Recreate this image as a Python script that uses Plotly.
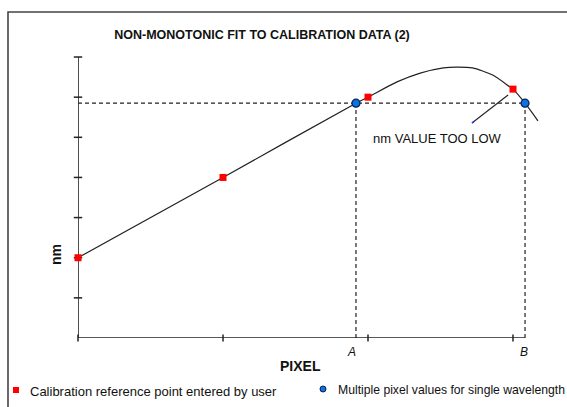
import plotly.graph_objects as go

# Calibration points entered by the user (pixel units, nm units)
calib_x = [0.0, 1.0, 2.0, 3.0]
calib_y = [2.0, 4.0, 6.0, 6.2]

# Pixels that map to the same wavelength on the fitted curve
multi_x = [1.917, 3.083]
multi_y = [5.85, 5.85]

# Fitted (non-monotonic) calibration curve
fit_x = [0.0, 1.0, 1.917, 2.0, 2.2, 2.36, 2.52, 2.61, 2.72, 2.86, 2.98, 3.0, 3.083, 3.172]
fit_y = [2.0, 4.0, 5.85, 6.0, 6.38, 6.60, 6.73, 6.75, 6.73, 6.55, 6.25, 6.2, 5.85, 5.41]

# Axis tick positions and labels
y_ticks = [1, 2, 3, 4, 5, 6, 7]
x_ticks = [0, 1, 2, 3]
x_axis_end = 3.083
y_axis_end = 7.0
point_labels = ["A", "B"]

W, H = 567, 407
ML, MR, MT, MB = 78, 10, 45, 69
PW, PH = W - ML - MR, H - MT - MB
X_UNIT, Y_UNIT = 145.0, 40.14  # pixels per axis unit

SANS = "Liberation Sans, Arial, sans-serif"
INK = "#111"


def px(x):
    return (x - ML) / PW


def py(y):
    return (H - MB - y) / PH


fig = go.Figure()

# dashed guide lines for the repeated wavelength
fig.add_trace(go.Scatter(
    x=[0, multi_x[1]], y=[multi_y[0], multi_y[1]], mode="lines",
    line=dict(color="#222", width=1.2, dash="4px,3px"), hoverinfo="skip"))
for xv, yv in zip(multi_x, multi_y):
    fig.add_trace(go.Scatter(
        x=[xv, xv], y=[0, yv], mode="lines",
        line=dict(color="#222", width=1.2, dash="4px,3px"), hoverinfo="skip"))

# axes
fig.add_trace(go.Scatter(x=[0, 0], y=[0, y_axis_end], mode="lines",
                         line=dict(color="#222", width=1.6), hoverinfo="skip"))
fig.add_trace(go.Scatter(x=[0, x_axis_end], y=[0, 0], mode="lines",
                         line=dict(color="#222", width=1.6), hoverinfo="skip"))
fig.add_trace(go.Scatter(x=[0] * len(y_ticks), y=y_ticks, mode="markers",
                         marker=dict(symbol="line-ew", size=6,
                                     line=dict(color="#222", width=1.5)),
                         hoverinfo="skip", cliponaxis=False))
fig.add_trace(go.Scatter(x=x_ticks, y=[0] * len(x_ticks), mode="markers",
                         marker=dict(symbol="line-ns", size=5,
                                     line=dict(color="#222", width=1.5)),
                         hoverinfo="skip", cliponaxis=False))

# fitted curve
fig.add_trace(go.Scatter(x=fit_x, y=fit_y, mode="lines",
                         line=dict(color="#222", width=1.2, shape="spline", smoothing=0.7),
                         hoverinfo="skip"))

# leader line for the note
fig.add_trace(go.Scatter(x=[2.966, 2.717], y=[6.054, 5.356], mode="lines",
                         line=dict(color="#222", width=1.1), hoverinfo="skip"))
fig.add_trace(go.Scatter(x=[2.735, 2.717], y=[5.40, 5.356], mode="lines",
                         line=dict(color="#1030ff", width=1.3), hoverinfo="skip"))

# data points
fig.add_trace(go.Scatter(x=calib_x, y=calib_y, mode="markers",
                         marker=dict(symbol="square", size=7, color="#ff0000"),
                         cliponaxis=False, name="calibration"))
fig.add_trace(go.Scatter(x=multi_x, y=multi_y, mode="markers",
                         marker=dict(symbol="circle", size=8, color="#0a74e0",
                                     line=dict(color="#0a1f50", width=1.2)),
                         cliponaxis=False, name="multiple"))

annotations = [
    dict(x=2.476, y=4.98, xref="x", yref="y", text="nm VALUE TOO LOW",
         showarrow=False, xanchor="center", yanchor="middle",
         font=dict(family=SANS, size=13, color=INK)),
    dict(x=px(56), y=py(255), xref="paper", yref="paper", text="<b>nm</b>",
         textangle=-90, showarrow=False, xanchor="center", yanchor="middle",
         font=dict(family=SANS, size=14, color=INK)),
    dict(x=px(300), y=py(366), xref="paper", yref="paper", text="<b>PIXEL</b>",
         showarrow=False, xanchor="center", yanchor="middle",
         font=dict(family=SANS, size=14, color=INK)),
    dict(x=px(28), y=py(391), xref="paper", yref="paper", xanchor="left", yanchor="middle",
         text="Calibration reference point entered by user",
         showarrow=False, font=dict(family=SANS, size=13, color=INK)),
    dict(x=px(336), y=py(390), xref="paper", yref="paper", xanchor="left", yanchor="middle",
         text="Multiple pixel values for single wavelength",
         showarrow=False, font=dict(family=SANS, size=12.2, color=INK)),
]
for lbl, xv, shift in zip(point_labels, multi_x, [-4, -1]):
    annotations.append(dict(x=xv, y=0, xref="x", yref="y", text=f"<i>{lbl}</i>",
                            showarrow=False, yshift=-14, xshift=shift,
                            xanchor="center", yanchor="middle",
                            font=dict(family=SANS, size=12, color=INK)))

shapes = [
    # outer frame
    dict(type="rect", xref="paper", yref="paper", x0=px(8), y0=py(12), x1=px(600), y1=py(440),
         line=dict(color="#444", width=1.6), fillcolor="rgba(0,0,0,0)"),
    # legend keys
    dict(type="rect", xref="paper", yref="paper", xsizemode="pixel", ysizemode="pixel",
         xanchor=px(16), yanchor=py(390), x0=-3, x1=3, y0=-3, y1=3,
         fillcolor="#ff0000", line=dict(width=0)),
    dict(type="circle", xref="paper", yref="paper", xsizemode="pixel", ysizemode="pixel",
         xanchor=px(323), yanchor=py(389), x0=-3, x1=3, y0=-3, y1=3,
         fillcolor="#0a74e0", line=dict(color="#0a1f50", width=1)),
]

fig.update_layout(
    width=W, height=H,
    margin=dict(l=ML, r=MR, t=MT, b=MB, pad=0),
    paper_bgcolor="white", plot_bgcolor="white",
    showlegend=False,
    title=dict(text="<b>NON-MONOTONIC FIT TO CALIBRATION DATA (2)</b>",
               x=262 / W, xanchor="center", xref="container",
               y=1 - 35 / H, yanchor="middle", yref="container",
               font=dict(family=SANS, size=12.5, color=INK)),
    xaxis=dict(range=[0, PW / X_UNIT], visible=False, fixedrange=True),
    yaxis=dict(range=[0, PH / Y_UNIT], visible=False, fixedrange=True),
    annotations=annotations,
    shapes=shapes,
)

fig.write_html("out.html")
